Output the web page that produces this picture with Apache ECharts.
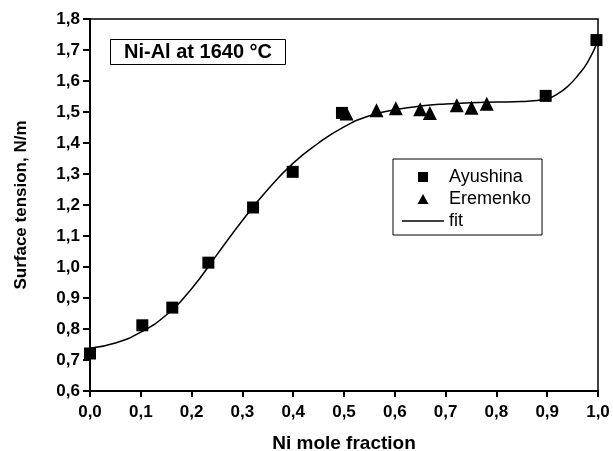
<!DOCTYPE html>
<html>
<head>
<meta charset="utf-8">
<script src="https://cdn.jsdelivr.net/npm/echarts@6/dist/echarts.min.js"></script>
<style>
    html, body { margin: 0; padding: 0; background: #fff; }
    #chart { width: 613px; height: 451px; }
</style>
</head>
<body>
<div id="chart"></div>
<script>
    // Ayushina (squares)
    var ayushinaX = [0.0, 0.103, 0.162, 0.233, 0.321, 0.399, 0.496, 0.897, 0.997];
    var ayushinaY = [0.721, 0.812, 0.869, 1.014, 1.192, 1.307, 1.497, 1.552, 1.732];
    // Eremenko (triangles)
    var eremenkoX = [0.505, 0.564, 0.602, 0.650, 0.669, 0.722, 0.751, 0.781];
    var eremenkoY = [1.495, 1.506, 1.512, 1.509, 1.497, 1.522, 1.514, 1.527];
    // fit curve
    var fitX = [0.0, 0.05, 0.1, 0.15, 0.2, 0.25, 0.3, 0.35, 0.4, 0.45, 0.5, 0.55, 0.6, 0.65, 0.7, 0.75, 0.8, 0.85, 0.9, 0.92, 0.94, 0.96, 0.98, 1.0];
    var fitY = [0.738, 0.755, 0.79, 0.845, 0.93, 1.04, 1.15, 1.25, 1.335, 1.40, 1.452, 1.488, 1.507, 1.519, 1.526, 1.530, 1.532, 1.534, 1.543, 1.558, 1.582, 1.617, 1.662, 1.73];

    var font = "'Liberation Sans', Arial, sans-serif";

    function zip(xs, ys) {
        var out = [];
        for (var i = 0; i < xs.length; i++) {
            out.push([xs[i], ys[i]]);
        }
        return out;
    }

    function comma(v) {
        return v.toFixed(1).replace('.', ',');
    }

    var option = {
        animation: false,
        backgroundColor: '#fff',
        title: {
            text: 'Ni-Al at 1640 °C',
            left: 110,
            top: 39,
            padding: [3, 14, 3, 14],
            borderColor: '#000',
            borderWidth: 1,
            textStyle: { fontFamily: font, fontWeight: 'bold', fontSize: 20, color: '#000' }
        },
        legend: {
            orient: 'vertical',
            left: 393,
            top: 159,
            padding: [9, 11, 5, 9],
            itemGap: 4,
            itemWidth: 42,
            itemHeight: 10,
            symbolKeepAspect: true,
            borderColor: '#000',
            borderWidth: 1,
            textStyle: { fontFamily: font, fontSize: 18, color: '#000' },
            data: [
                // path icons so the marks keep their shape inside the wide icon box
                { name: 'Ayushina', icon: 'path://M0,0h8v8h-8z' },
                { name: 'Eremenko', icon: 'path://M5,0L10,9L0,9Z' },
                { name: 'fit', icon: 'path://M0,0h42v1.5h-42z' }
            ]
        },
        grid: {
            left: 90,
            right: 15,
            top: 19,
            bottom: 60,
            outerBoundsMode: 'none',
            show: true,
            borderColor: '#000',
            borderWidth: 1.5
        },
        xAxis: {
            type: 'value',
            min: 0,
            max: 1,
            interval: 0.1,
            name: 'Ni mole fraction',
            nameLocation: 'middle',
            nameGap: 43,
            nameTextStyle: { fontFamily: font, fontWeight: 'bold', fontSize: 19, color: '#000' },
            axisLine: { lineStyle: { color: '#000', width: 2 } },
            axisTick: { inside: false, length: 6, lineStyle: { color: '#000', width: 2 } },
            axisLabel: {
                margin: 13,
                fontFamily: font, fontWeight: 'bold', fontSize: 17, color: '#000',
                formatter: comma
            },
            splitLine: { show: false }
        },
        yAxis: {
            type: 'value',
            min: 0.6,
            max: 1.8,
            interval: 0.1,
            name: 'Surface tension, N/m',
            nameLocation: 'middle',
            nameGap: 60,
            nameTextStyle: { fontFamily: font, fontWeight: 'bold', fontSize: 17, color: '#000' },
            axisLine: { lineStyle: { color: '#000', width: 2 } },
            axisTick: { inside: false, length: 7, lineStyle: { color: '#000', width: 2 } },
            axisLabel: {
                margin: 10,
                fontFamily: font, fontWeight: 'bold', fontSize: 17, color: '#000',
                formatter: comma
            },
            splitLine: { show: false }
        },
        series: [
            {
                name: 'fit',
                type: 'line',
                data: zip(fitX, fitY),
                smooth: true,
                symbol: 'none',
                lineStyle: { color: '#000', width: 1.5 },
                itemStyle: { color: '#000' },
                z: 1
            },
            {
                name: 'Ayushina',
                type: 'scatter',
                data: zip(ayushinaX, ayushinaY),
                symbol: 'rect',
                symbolSize: 12,
                itemStyle: { color: '#000', opacity: 1 },
                z: 3
            },
            {
                name: 'Eremenko',
                type: 'scatter',
                data: zip(eremenkoX, eremenkoY),
                symbol: 'triangle',
                symbolSize: 14,
                itemStyle: { color: '#000', opacity: 1 },
                z: 3
            }
        ]
    };

    var myChart = echarts.init(document.getElementById('chart'));
    myChart.setOption(option);
</script>
</body>
</html>
